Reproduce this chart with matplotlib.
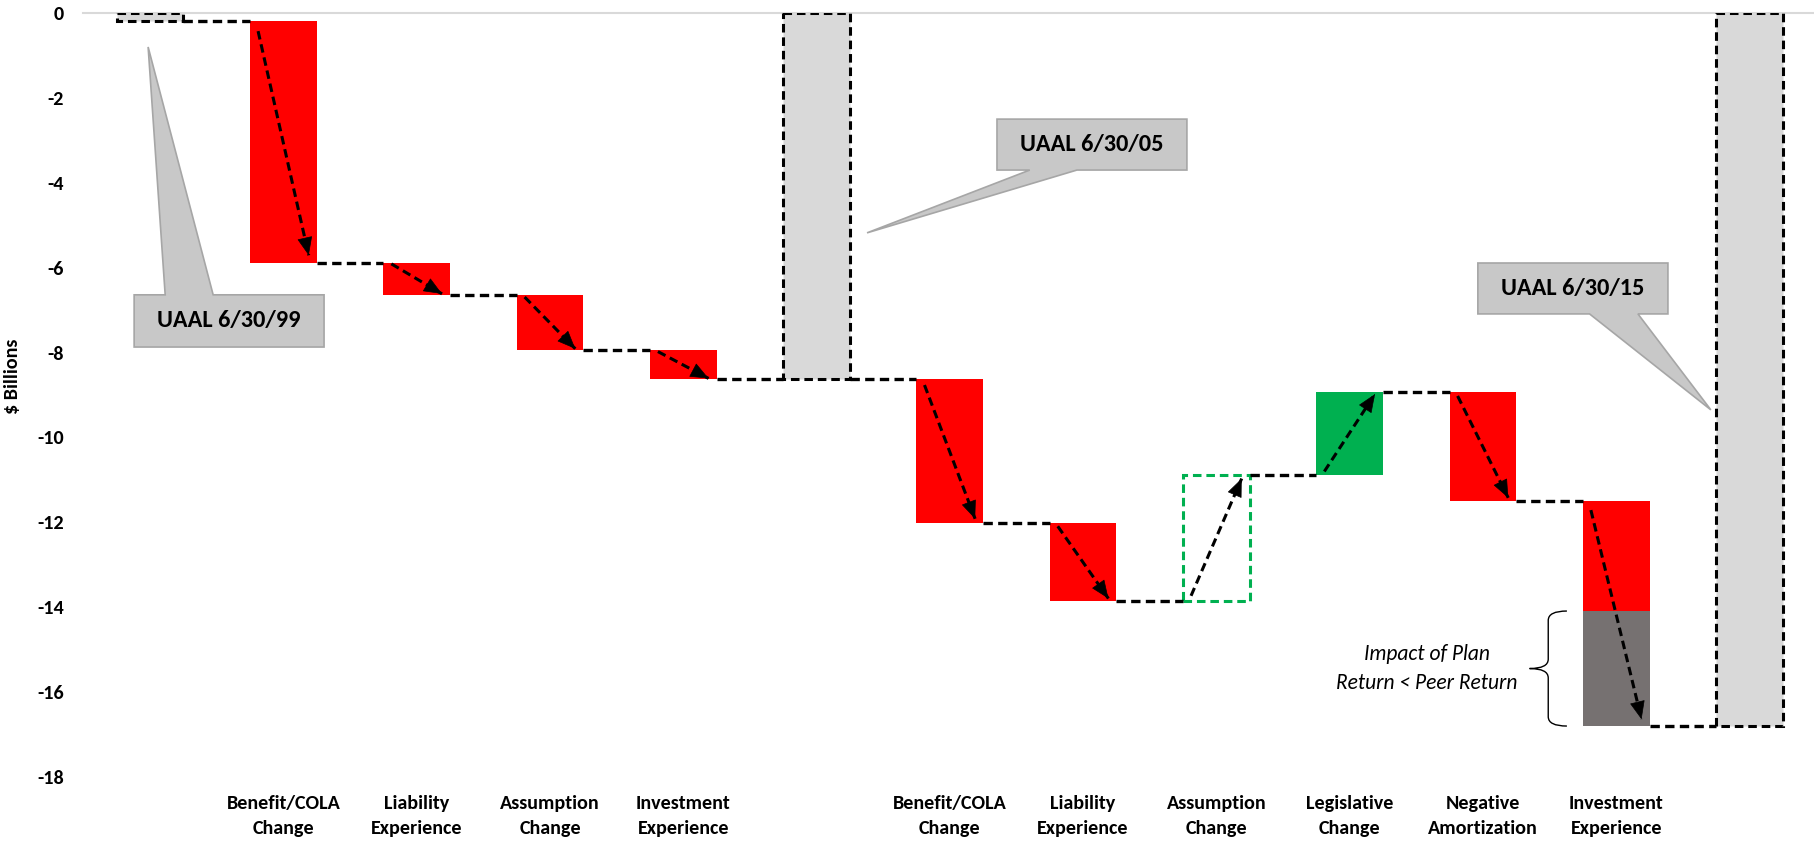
import matplotlib
matplotlib.use('Agg')

from matplotlib import pyplot as plt
from matplotlib import font_manager
from matplotlib.path import Path
from matplotlib.patches import PathPatch, Polygon

installed = {f.name for f in font_manager.fontManager.ttflist}
family = next((n for n in ['Carlito', 'Lato', 'Open Sans'] if n in installed), 'DejaVu Sans')
plt.rcParams['font.family'] = [family, 'DejaVu Sans']
plt.rcParams['axes.unicode_minus'] = False

# waterfall steps, $ billions
categories = ['', 'Benefit/COLA\nChange', 'Liability\nExperience', 'Assumption\nChange',
              'Investment\nExperience', '', 'Benefit/COLA\nChange', 'Liability\nExperience',
              'Assumption\nChange', 'Legislative\nChange', 'Negative\nAmortization',
              'Investment\nExperience', '']
kinds = ['total', 'delta', 'delta', 'delta', 'delta', 'total',
         'delta', 'delta', 'delta', 'delta', 'delta', 'delta', 'total']
deltas = [-0.20, -5.68, -0.76, -1.31, -0.68, None,
          -3.39, -1.83, 2.97, 1.96, -2.58, -5.30, None]
# part of the last investment loss due to plan return trailing peers
peer_gap = -2.71
# the assumption change in the second period is shown as an outline only
outline_only = [False] * 13
outline_only[8] = True

callouts = [
    ('UAAL 6/30/99', 0),
    ('UAAL 6/30/05', 5),
    ('UAAL 6/30/15', 12),
]

RED = '#ff0000'
GREEN = '#00b050'
PEER = '#767171'
TOTAL = '#d9d9d9'
DASH = (0, (2.8, 1.6))
BW = 0.5

fig = plt.figure(figsize=(18.14, 8.44), dpi=100)
ax = fig.add_axes([0.0458, 0.0794, 0.9542, 0.9052])


def step_arrow(p0, p1):
    # dashed shaft plus a solid filled head
    ax.plot([p0[0], p1[0]], [p0[1], p1[1]], color='black', lw=2.2,
            linestyle=DASH, zorder=5)
    back = (p1[0] - 0.01 * (p1[0] - p0[0]), p1[1] - 0.01 * (p1[1] - p0[1]))
    ax.annotate('', xy=p1, xytext=back,
                arrowprops=dict(arrowstyle='-|>,head_length=0.6,head_width=0.25',
                                mutation_scale=20, lw=0.5, color='black',
                                shrinkA=0, shrinkB=0),
                zorder=6)


levels = []
running = 0.0
for i, kind in enumerate(kinds):
    if kind == 'total':
        if deltas[i] is not None:
            running = deltas[i]
        ax.bar(i, running, width=BW, bottom=0, color=TOTAL, edgecolor='black',
               linewidth=2.2, linestyle=DASH, zorder=3)
        levels.append((running, running))
        continue

    start = running
    end = running + deltas[i]
    if i == 11:
        plan_end = end - peer_gap
        ax.bar(i, plan_end - start, width=BW, bottom=start, color=RED, zorder=2)
        ax.bar(i, end - plan_end, width=BW, bottom=plan_end, color=PEER, zorder=2)
    elif outline_only[i]:
        ax.bar(i, end - start, width=BW, bottom=start, color='none', edgecolor=GREEN,
               linewidth=2.2, linestyle=DASH, zorder=3)
    else:
        ax.bar(i, end - start, width=BW, bottom=start,
               color=GREEN if deltas[i] > 0 else RED, zorder=2)

    d = end - start
    step_arrow((i - BW / 2 + 0.06, start + 0.04 * d),
               (i + BW / 2 - 0.06, end - 0.03 * d))
    levels.append((start, end))
    running = end

# connectors between neighbouring bars
for i in range(len(kinds) - 1):
    y = levels[i][1]
    ax.plot([i + BW / 2, i + 1 - BW / 2], [y, y], color='black', lw=2.4,
            linestyle=DASH, zorder=4, solid_capstyle='butt')


def callout(text, box, base, tip, side):
    x0, y0, x1, y1 = box
    b0, b1 = base
    if side == 'top':
        pts = [(x0, y0), (b0, y0), tip, (b1, y0), (x1, y0), (x1, y1), (x0, y1)]
    else:
        pts = [(x0, y0), (x1, y0), (x1, y1), (b1, y1), tip, (b0, y1), (x0, y1)]
    ax.add_patch(Polygon(pts, closed=True, facecolor='#c8c8c8', edgecolor='#a6a6a6',
                         lw=1.2, zorder=6))
    ax.text((x0 + x1) / 2, (y0 + y1) / 2, text, ha='center', va='center',
            fontsize=17.5, fontweight='bold', color='black', zorder=7)


callout(callouts[0][0], (-0.12, -6.64, 1.305, -7.87), (0.113, 0.473), (-0.015, -0.80), 'top')
callout(callouts[1][0], (6.354, -2.50, 7.779, -3.70), (6.60, 6.954), (5.379, -5.18), 'bottom')
callout(callouts[2][0], (9.962, -5.89, 11.388, -7.09), (10.80, 11.163), (11.71, -9.35), 'bottom')

# brace next to the peer-return segment
yt = levels[11][1] - peer_gap
yb = levels[11][1]
ym = (yt + yb) / 2
xr, xm, xt = 10.63, 10.49, 10.35
r = 0.22
verts = [(xr, yt), (xm, yt), (xm, yt - r), (xm, ym + r), (xm, ym), (xt, ym),
         (xm, ym), (xm, ym - r), (xm, yb + r), (xm, yb), (xr, yb)]
codes = [Path.MOVETO, Path.CURVE3, Path.CURVE3, Path.LINETO, Path.CURVE3, Path.CURVE3,
         Path.CURVE3, Path.CURVE3, Path.LINETO, Path.CURVE3, Path.CURVE3]
ax.add_patch(PathPatch(Path(verts, codes), facecolor='none', edgecolor='black', lw=1.0))
ax.text(9.58, ym, 'Impact of Plan\nReturn < Peer Return', ha='center', va='center',
        fontsize=15.5, style='italic', linespacing=1.6)

ax.axhline(0, color='#d9d9d9', lw=1.5, zorder=1, clip_on=False)

ax.set_xlim(-0.503, 12.484)
ax.set_ylim(-18, 0)
ax.set_yticks(range(0, -19, -2))
ax.set_xticks(range(len(categories)))
ax.set_xticklabels(categories, fontsize=14.5, fontweight='bold', linespacing=1.55)
for lbl in ax.get_yticklabels():
    lbl.set_fontweight('bold')
    lbl.set_fontsize(14.5)
ax.tick_params(axis='both', length=0)
ax.tick_params(axis='y', pad=14)
ax.tick_params(axis='x', pad=13)
ax.set_ylabel('$ Billions', fontsize=14.5, fontweight='bold')
ax.yaxis.set_label_coords(-0.036, 0.525)
for s in ax.spines.values():
    s.set_visible(False)

fig.savefig('out.png', dpi=100)
